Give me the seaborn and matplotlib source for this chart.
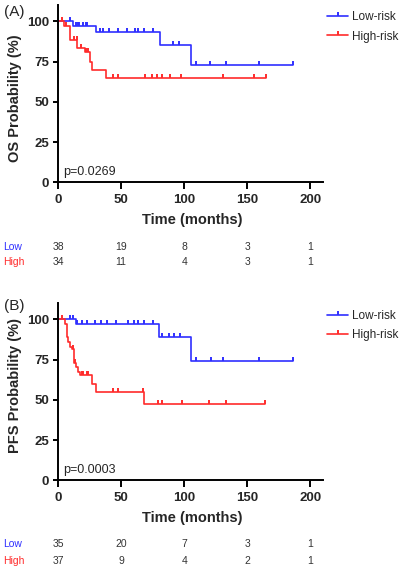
import numpy as np
import matplotlib
matplotlib.use("Agg")
import matplotlib.pyplot as plt
import matplotlib.transforms as mtransforms
from matplotlib.lines import Line2D
import seaborn as sns

# ------------------------------
# Data
# ------------------------------

# (A) overall survival
os_low_time = [0, 11.5, 30, 81, 105, 186.5]
os_low_surv = [100, 97.3, 93.5, 85.3, 73.0, 73.0]
os_low_cens = [9.5, 14.3, 15.6, 16.9, 19.6, 22.2, 23.3, 33.3, 35.9, 40.7, 47.9,
               54.5, 60.8, 63.7, 68.3, 75.1, 91, 96, 109.5, 120.6, 133, 159, 186.5]

os_high_time = [0, 5, 9.5, 15.3, 21.4, 25.4, 26.7, 38, 164.5]
os_high_surv = [100, 97.1, 88.4, 83.6, 80.7, 74.9, 69.7, 64.8, 64.8]
os_high_cens = [3.4, 6.3, 13, 14.7, 18.3, 22.2, 23.8, 43.4, 47.9, 69, 74.4, 78.8,
                82.5, 88.9, 97.4, 131, 155, 164.5]

# (B) progression-free survival
pfs_low_time = [0, 14.3, 80.4, 105, 186.5]
pfs_low_surv = [100, 97.1, 88.8, 74.1, 74.1]
pfs_low_cens = [9.5, 12.1, 15.3, 18.8, 23.3, 29.4, 33.9, 39.1, 46, 55.8, 60.6,
                63.7, 68.3, 75.1, 82.3, 88.3, 92, 96.8, 109.4, 121.2, 131, 159.3, 186.5]

pfs_high_time = [0, 5.6, 6.9, 8.2, 9.5, 10.8, 12.7, 14.3, 16.1, 17.5, 26.7, 30.2, 68.5, 164.3]
pfs_high_surv = [100, 97.3, 88.8, 86.1, 83.0, 81.4, 72.7, 70.6, 67.1, 65.4, 59.6, 54.7, 47.4, 47.4]
pfs_high_cens = [3.4, 11.6, 13.5, 18.8, 20.1, 23.3, 24.1, 43.4, 47.4, 67.7, 79.6,
                 82.3, 98.1, 120, 133, 164.3]

# numbers at risk
risk_times = [0, 50, 100, 150, 200]
os_low_risk = [38, 19, 8, 3, 1]
os_high_risk = [34, 11, 4, 3, 1]
pfs_low_risk = [35, 20, 7, 3, 1]
pfs_high_risk = [37, 9, 4, 2, 1]

# ------------------------------
# Style
# ------------------------------

sns.set_style("ticks")
plt.rcParams['font.family'] = ['Liberation Sans', 'DejaVu Sans']

BLUE = "#2f2fff"
RED = "#ff2b2b"
TICK = [(0, 0), (0, 1)]  # censor mark pointing up

fig = plt.figure(figsize=(4.02, 5.70), dpi=100)
W, H = 402.0, 570.0


def level_at(times, surv, c):
    idx = np.searchsorted(times, c, side='right') - 1
    return surv[idx]


def km_panel(ax, low, high, ylabel, pval, ylab_y, leg_top):
    for (t, s, cens), col in zip([low, high], [BLUE, RED]):
        sns.lineplot(x=t, y=s, ax=ax, color=col, linewidth=1.2,
                     drawstyle='steps-post', sort=False)
        cy = [level_at(t, s, c) for c in cens]
        ax.plot(cens, cy, linestyle='none', marker=TICK, markersize=6,
                markeredgewidth=1.4, color=col)

    ax.set_xlim(0, 210)
    ax.set_ylim(0, 110)
    ax.set_xticks([0, 50, 100, 150, 200])
    ax.set_yticks([0, 25, 50, 75, 100])
    ax.tick_params(axis='both', labelsize=9.5, width=1.4, color='black')
    ax.tick_params(axis='x', length=4.7, pad=4)
    ax.tick_params(axis='y', length=3.6, pad=3)
    for lab in ax.get_xticklabels() + ax.get_yticklabels():
        lab.set_fontweight('bold')
    for sp in ['left', 'bottom']:
        ax.spines[sp].set_linewidth(1.4)
        ax.spines[sp].set_color('black')
    sns.despine(ax=ax)

    ax.set_ylabel(ylabel, fontsize=10.5, fontweight='bold')
    ax.yaxis.set_label_coords(-0.164, ylab_y)
    ax.yaxis.label.set_va('center')
    ax.set_xlabel("Time (months)", fontsize=10.5, fontweight='bold')
    ax.xaxis.set_label_coords(0.505, -0.213)
    ax.xaxis.label.set_va('center')

    ax.text(4, 6.5, pval, fontsize=9, va='center', ha='left')

    handles = [Line2D([0], [0], color=BLUE, lw=1.2, marker=TICK, markersize=6, markeredgewidth=1.4),
               Line2D([0], [0], color=RED, lw=1.2, marker=TICK, markersize=6, markeredgewidth=1.4)]
    ax.legend(handles, ["Low-risk", "High-risk"], loc='upper left',
              bbox_to_anchor=(327 / W, 1 - leg_top / H), bbox_transform=fig.transFigure,
              frameon=False, fontsize=8.5, handlelength=1.8, handletextpad=0.35,
              labelspacing=0.6, borderpad=0, borderaxespad=0)


# ------------------------------
# Panels
# ------------------------------

ax_a = fig.add_axes([58 / W, 1 - 182.3 / H, 265 / W, 177.1 / H])
ax_b = fig.add_axes([58 / W, 1 - 480.3 / H, 265 / W, 177.1 / H])

km_panel(ax_a, (os_low_time, os_low_surv, os_low_cens),
         (os_high_time, os_high_surv, os_high_cens),
         "OS Probability (%)", "p=0.0269", 0.476, 11.5)
km_panel(ax_b, (pfs_low_time, pfs_low_surv, pfs_low_cens),
         (pfs_high_time, pfs_high_surv, pfs_high_cens),
         "PFS Probability (%)", "p=0.0003", 0.534, 310)

fig.text(4 / W, 1 - 12 / H, "(A)", fontsize=11, va='center', ha='left')
fig.text(4 / W, 1 - 306 / H, "(B)", fontsize=11, va='center', ha='left')

# ------------------------------
# Numbers at risk
# ------------------------------

for ax, rows in [(ax_a, [(os_low_risk, 246.7), (os_high_risk, 261.7)]),
                 (ax_b, [(pfs_low_risk, 544.0), (pfs_high_risk, 560.7)])]:
    tr = mtransforms.blended_transform_factory(ax.transData, fig.transFigure)
    for (vals, ypx), name, col in zip(rows, ["Low", "High"], [BLUE, RED]):
        fig.text(3 / W, 1 - ypx / H, name, color=col, fontsize=7.5, va='center', ha='left')
        for t, v in zip(risk_times, vals):
            ax.text(t, 1 - ypx / H, str(v), transform=tr, fontsize=7.5,
                    color='#333333', va='center', ha='center')

plt.savefig("out.png", dpi=100)
